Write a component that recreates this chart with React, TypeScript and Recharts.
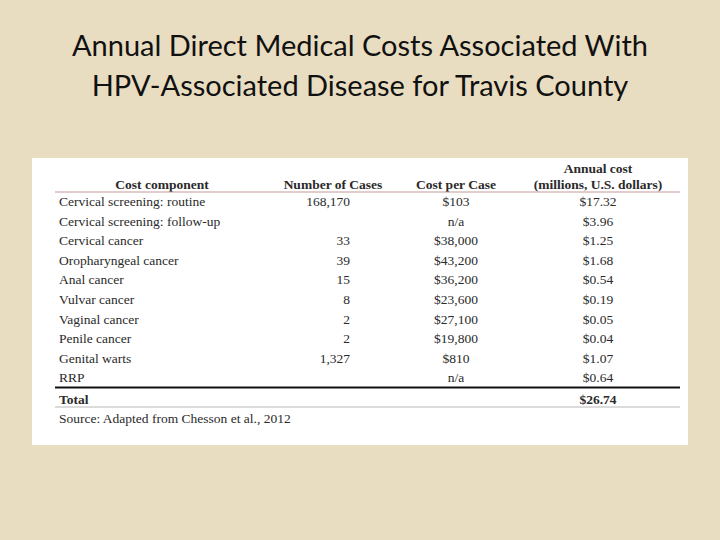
import React from "react"
import { ComposedChart, Bar, XAxis, YAxis, Customized } from "recharts"

// table content
const components = [
  "Cervical screening: routine",
  "Cervical screening: follow-up",
  "Cervical cancer",
  "Oropharyngeal cancer",
  "Anal cancer",
  "Vulvar cancer",
  "Vaginal cancer",
  "Penile cancer",
  "Genital warts",
  "RRP",
]
const numberOfCases = ["168,170", "", "33", "39", "15", "8", "2", "2", "1,327", ""]
const costPerCase = ["$103", "n/a", "$38,000", "$43,200", "$36,200", "$23,600", "$27,100", "$19,800", "$810", "n/a"]
const annualCost = [17.32, 3.96, 1.25, 1.68, 0.54, 0.19, 0.05, 0.04, 1.07, 0.64]
const totalCost = 26.74

const headers = ["Cost component", "Number of Cases", "Cost per Case", "Annual cost", "(millions, U.S. dollars)"]
const sourceNote = "Source: Adapted from Chesson et al., 2012"
const titleLines = ["Annual Direct Medical Costs Associated With", "HPV-Associated Disease for Travis County"]

const rows = [
  ...components.map((c, i) => ({
    component: c,
    cases: numberOfCases[i],
    perCase: costPerCase[i],
    annual: annualCost[i],
  })),
  { component: "Total", cases: "", perCase: "", annual: totalCost },
]

const W = 656
const H = 287
const AXIS_W = 40
const margin = { top: 34, right: 0, bottom: 38, left: -AXIS_W }
const band = (H - margin.top - margin.bottom) / rows.length

// column anchors (chart coords)
const colComponent = 27
const colCases = 318
const colPerCase = 424
const colAnnual = 566
const lineX1 = 23
const lineX2 = 648

const serif = "'Liberation Serif', 'Times New Roman', serif"
const ink = "#2a2a2a"

const fmt = (v: number) => `$${v.toFixed(2)}`

function RowTick(props: any) {
  const { y, payload } = props
  const idx = rows.findIndex((r) => r.component === payload?.value)
  const row = rows[idx]
  if (!row) return null
  const isTotal = row.component === "Total"
  const ty = y + (isTotal ? 2 : 0)
  const textProps = { fontFamily: serif, fontSize: 13.5, fill: ink, dominantBaseline: "central" as const }
  return (
    <g>
      {idx === 0 && (
        <line x1={lineX1} x2={lineX2} y1={y - band / 2} y2={y - band / 2} stroke="#c49a9a" strokeWidth={1} />
      )}
      {isTotal && (
        <>
          <line x1={lineX1} x2={lineX2} y1={y - band / 2} y2={y - band / 2} stroke="#111" strokeWidth={2} />
          <line x1={lineX1} x2={lineX2} y1={y + band / 2} y2={y + band / 2} stroke="#b8b8b8" strokeWidth={1} />
        </>
      )}
      <text {...textProps} x={colComponent} y={ty} fontWeight={isTotal ? "bold" : "normal"}>
        {row.component}
      </text>
      <text {...textProps} x={colCases} y={ty} textAnchor="end">
        {row.cases}
      </text>
      <text {...textProps} x={colPerCase} y={ty} textAnchor="middle">
        {row.perCase}
      </text>
      <text {...textProps} x={colAnnual} y={ty} textAnchor="middle" fontWeight={isTotal ? "bold" : "normal"}>
        {fmt(row.annual)}
      </text>
    </g>
  )
}

function HeaderAndSource() {
  const t = { fontFamily: serif, fontSize: 13.5, fill: ink, fontWeight: "bold" as const, textAnchor: "middle" as const, dominantBaseline: "central" as const }
  const headY = margin.top - 8
  return (
    <g>
      <text {...t} x={130} y={headY}>{headers[0]}</text>
      <text {...t} x={301} y={headY}>{headers[1]}</text>
      <text {...t} x={colPerCase} y={headY}>{headers[2]}</text>
      <text {...t} x={colAnnual} y={headY - 16}>{headers[3]}</text>
      <text {...t} x={colAnnual} y={headY}>{headers[4]}</text>
      <text
        fontFamily={serif}
        fontSize={13.5}
        fill={ink}
        dominantBaseline="central"
        x={colComponent}
        y={H - margin.bottom + 11}
      >
        {sourceNote}
      </text>
    </g>
  )
}

export default function App() {
  return (
    <div style={{ position: "absolute", left: 0, top: 0, width: 720, height: 540, background: "#e9ddc1" }}>
      <div
        style={{
          position: "absolute",
          top: 25,
          left: 0,
          width: 720,
          textAlign: "center",
          fontFamily: "Lato, 'Open Sans', sans-serif",
          fontSize: 29,
          lineHeight: "40px",
          color: "#111",
        }}
      >
        {titleLines.map((l) => (
          <div key={l}>{l}</div>
        ))}
      </div>
      <div style={{ position: "absolute", left: 32, top: 158, width: W, height: H, background: "#fff" }}>
        <ComposedChart width={W} height={H} data={rows} layout="vertical" margin={margin}>
          <XAxis type="number" hide domain={[0, 30]} />
          <YAxis
            type="category"
            dataKey="component"
            width={AXIS_W}
            axisLine={false}
            tickLine={false}
            interval={0}
            tick={(p: any) => <RowTick {...p} />}
          />
          <Bar dataKey="annual" fill="transparent" isAnimationActive={false} />
          <Customized component={HeaderAndSource} />
        </ComposedChart>
      </div>
    </div>
  )
}
